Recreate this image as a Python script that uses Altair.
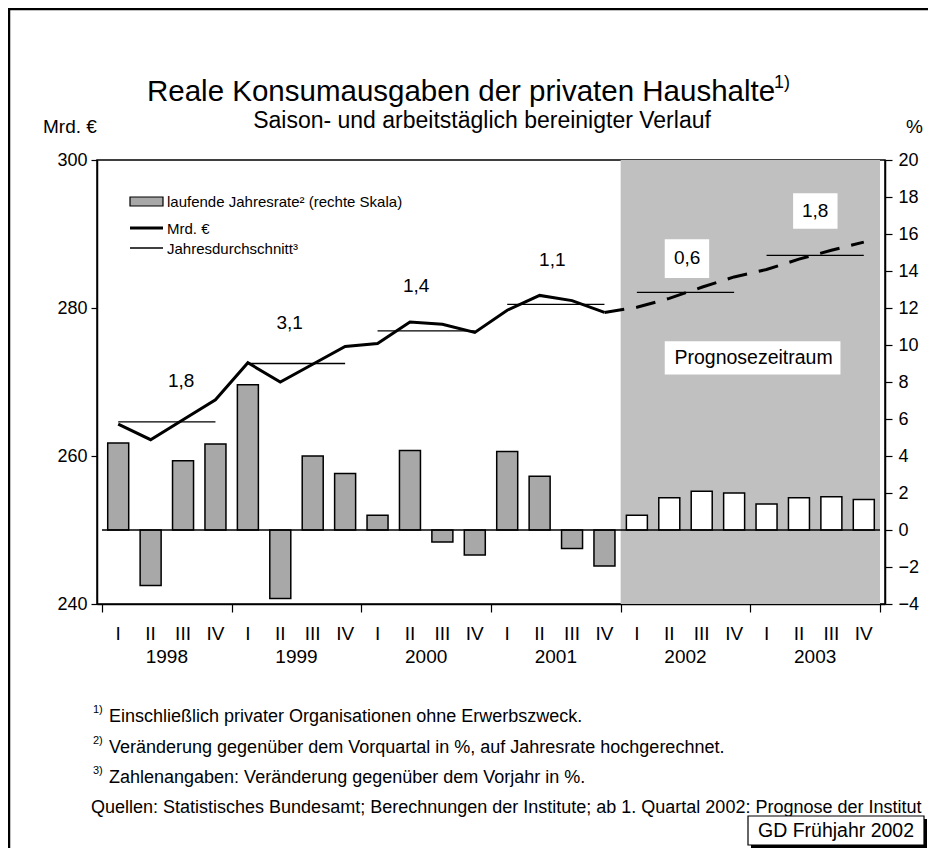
import altair as alt
import pandas as pd

# ---------------- data ----------------
quarter_names = ["I", "II", "III", "IV"]
years = ["1998", "1999", "2000", "2001", "2002", "2003"]
# laufende Jahresrate (right scale, %)
rate = [4.7, -3.0, 3.75, 4.65, 7.85, -3.7, 4.0, 3.05,
        0.8, 4.3, -0.65, -1.35, 4.25, 2.9, -1.0, -1.95,
        0.8, 1.75, 2.1, 2.0, 1.4, 1.75, 1.8, 1.65]
# Mrd. € (left scale)
level = [264.3, 262.2, 264.9, 267.6, 272.6, 270.0, 272.4, 274.8,
         275.2, 278.1, 277.8, 276.7, 279.7, 281.7, 281.0, 279.4,
         280.1, 281.3, 282.8, 284.2, 285.2, 286.6, 287.8, 288.9]
annual_avg = [264.6, 272.5, 276.9, 280.5, 282.1, 287.1]
annual_growth = ["1,8", "3,1", "1,4", "1,1", "0,6", "1,8"]
forecast_start = 16  # first forecast quarter (2002 I)

# ---------------- layout constants ----------------
W, H = 788, 444
FONT = "Liberation Sans"
BAR_FILL = "#a8a8a8"
SHADE = "#c0c0c0"
lab_q = [2.44, 5.79, 9.69, 13.89, 18.05, 22.0]
lab_y = [270.1, 278.0, 283.0, 286.5, 286.7, 293.1]
boxes = [(17.36, 18.73, 289.3, 284.05), (21.32, 22.69, 295.5, 290.7), (17.36, 22.78, 275.5, 271.0)]

n = len(rate)
df = pd.DataFrame({
    "q": [i + 0.5 for i in range(n)],
    "rate": rate,
    "base": [0.0] * n,
    "level": level,
    "phase": ["hist" if i < forecast_start else "prog" for i in range(n)],
    "qlabel": [quarter_names[i % 4] for i in range(n)],
})
hist_line = df.iloc[:forecast_start]
prog_line = df.iloc[forecast_start - 1:]

avg_df = pd.DataFrame({
    "x0": [k * 4 + 0.5 for k in range(len(years))],
    "x1": [k * 4 + 3.5 for k in range(len(years))],
    "avg": annual_avg,
    "year": years,
    "ymid": [k * 4 + 2 for k in range(len(years))],
})
lab_df = pd.DataFrame({"q": lab_q, "y": lab_y, "t": annual_growth})
box_df = pd.DataFrame({"x0": [b[0] for b in boxes], "x1": [b[1] for b in boxes],
                       "y0": [b[2] for b in boxes], "y1": [b[3] for b in boxes]})

xscale = alt.Scale(domain=[0, 24], nice=False, zero=False)
lscale = alt.Scale(domain=[240, 300], nice=False, zero=False)
rscale = alt.Scale(domain=[-4, 20], nice=False, zero=False)

# identical axis objects on every layer sharing a scale (axis=None would drop the merged axis)
xaxis = alt.Axis(values=[0, 4, 8, 12, 16, 20, 24], labels=False, title=None, tickSize=8,
                 tickColor="black", domainColor="black", domainWidth=1.5, tickWidth=1.2, grid=False)
laxis = alt.Axis(orient="left", values=[240, 260, 280, 300], title=None, tickSize=6, labelPadding=4,
                 labelFontSize=18, labelFont=FONT, labelColor="black", tickColor="black", tickWidth=1.2,
                 domainColor="black", domainWidth=1.5, grid=False, labelOverlap=False)
raxis = alt.Axis(orient="right", values=list(range(-4, 21, 2)), title=None, tickSize=7, labelPadding=6,
                 labelFontSize=18, labelFont=FONT, labelColor="black", tickColor="black", tickWidth=1.2,
                 domainColor="black", domainWidth=1.5, grid=False, labelOverlap=False)

X = lambda f: alt.X(f, scale=xscale, axis=xaxis)
YL = lambda f: alt.Y(f, scale=lscale, axis=laxis)
YR = lambda f: alt.Y(f, scale=rscale, axis=raxis)

one = pd.DataFrame({"a": [0]})


def txt(s, x, y, size, align="left", baseline="alphabetic", limit=0):
    kw = dict(align=align, baseline=baseline, font=FONT, fontSize=size, color="black")
    if limit:
        kw.update(limit=limit, ellipsis=" ")
    return alt.Chart(pd.DataFrame({"t": [s]})).mark_text(**kw).encode(
        x=alt.value(x), y=alt.value(y), text="t:N")


def prect(x0, x1, y0, y1, fill, stroke=None, sw=0):
    kw = dict(fill=fill)
    if stroke:
        kw.update(stroke=stroke, strokeWidth=sw)
    return alt.Chart(one).mark_rect(**kw).encode(
        x=alt.value(x0), x2=alt.value(x1), y=alt.value(y0), y2=alt.value(y1))


def prule(x0, x1, y0, y1, sw):
    return alt.Chart(one).mark_rule(color="black", strokeWidth=sw).encode(
        x=alt.value(x0), x2=alt.value(x1), y=alt.value(y0), y2=alt.value(y1))


# ---------------- right-scale group ----------------
shade = alt.Chart(pd.DataFrame({"x0": [forecast_start], "x1": [24]})).mark_rect(color=SHADE).encode(
    x=X("x0:Q"), x2="x1:Q", y=alt.value(0), y2=alt.value(H))

bars = alt.Chart(df).mark_bar(size=21, stroke="black", strokeWidth=1.5).encode(
    x=X("q:Q"),
    y=YR("rate:Q"),
    y2="base:Q",
    fill=alt.Fill("phase:N", scale=alt.Scale(domain=["hist", "prog"], range=[BAR_FILL, "#ffffff"]), legend=None),
)

zero = alt.Chart(pd.DataFrame({"x0": [0], "x1": [24], "y": [0]})).mark_rule(color="black", strokeWidth=1.5).encode(
    x=X("x0:Q"), x2="x1:Q", y=YR("y:Q"))

right = alt.layer(shade, bars, zero)

# ---------------- left-scale group ----------------
line_h = alt.Chart(hist_line).mark_line(color="black", strokeWidth=3).encode(x=X("q:Q"), y=YL("level:Q"))
line_p = alt.Chart(prog_line).mark_line(color="black", strokeWidth=3, strokeDash=[20, 12]).encode(
    x=X("q:Q"), y=YL("level:Q"))

avg_rules = alt.Chart(avg_df).mark_rule(color="black", strokeWidth=1.3).encode(
    x=X("x0:Q"), x2="x1:Q", y=YL("avg:Q"))

white_boxes = alt.Chart(box_df).mark_rect(color="white").encode(
    x=X("x0:Q"), x2="x1:Q", y=YL("y0:Q"), y2="y1:Q")

growth = alt.Chart(lab_df).mark_text(font=FONT, fontSize=19, color="black", baseline="middle").encode(
    x=X("q:Q"), y=YL("y:Q"), text="t:N")

prog_txt = alt.Chart(pd.DataFrame({"q": [20.1], "y": [273.2], "t": ["Prognosezeitraum"]})).mark_text(
    font=FONT, fontSize=19.5, color="black", baseline="middle").encode(
    x=X("q:Q"), y=YL("y:Q"), text="t:N")

qlabels = alt.Chart(df).mark_text(font=FONT, fontSize=19, color="black", baseline="middle").encode(
    x=X("q:Q"), y=alt.value(474), text="qlabel:N")
ylabels = alt.Chart(avg_df).mark_text(font=FONT, fontSize=19, color="black", baseline="middle").encode(
    x=X("ymid:Q"), y=alt.value(497), text="year:N")

# legend
leg = [
    prect(33, 66, 37, 46, BAR_FILL, "black", 1.2),
    txt("laufende Jahresrate² (rechte Skala)", 70, 41.5, 15, baseline="middle"),
    prule(33, 66, 68, 68, 3),
    txt("Mrd. €", 70, 68.5, 15, baseline="middle"),
    prule(33, 66, 88, 88, 1.3),
    txt("Jahresdurchschnitt³", 70, 89, 15, baseline="middle"),
]

# titles and notes
notes = [
    txt("Reale Konsumausgaben der privaten Haushalte", 50, -59, 29.5),
    txt("1)", 677, -72, 18),
    txt("Saison- und arbeitstäglich bereinigter Verlauf", 385, -32, 23, align="center"),
    txt("Mrd. €", -54, -27, 19),
    txt("%", 809, -27, 19),
    txt("1)", -4, 553, 11),
    txt("Einschließlich privater Organisationen ohne Erwerbszweck.", 12, 562, 18),
    txt("2)", -4, 584, 11),
    txt("Veränderung gegenüber dem Vorquartal in %, auf Jahresrate hochgerechnet.", 12, 593, 18),
    txt("3)", -4, 614, 11),
    txt("Zahlenangaben: Veränderung gegenüber dem Vorjahr in %.", 12, 623, 18),
    txt("Quellen: Statistisches Bundesamt; Berechnungen der Institute; ab 1. Quartal 2002: Prognose der Institute",
        -6, 653, 18, limit=836),
    prect(654, 830, 659, 688, "black"),
    prect(651, 827, 656, 685, "white", "black", 1.2),
    txt("GD Frühjahr 2002", 739, 670.5, 19.5, align="center", baseline="middle"),
    prule(-88, -88, -151, 700, 2.5),
    prule(-89, 840, -151, -151, 2.5),
]

left = alt.layer(line_h, line_p, avg_rules, white_boxes, growth, prog_txt, qlabels, ylabels, *leg, *notes)

chart = alt.layer(right, left).resolve_scale(y="independent").properties(
    width=W, height=H,
    autosize=alt.AutoSizeParams(type="none"),
    padding={"left": 89, "top": 152, "right": 43, "bottom": 244},
).configure(background="white").configure_view(stroke="black", strokeWidth=1.5)

chart.save("out.html", embed_options={"renderer": "svg", "actions": False})
